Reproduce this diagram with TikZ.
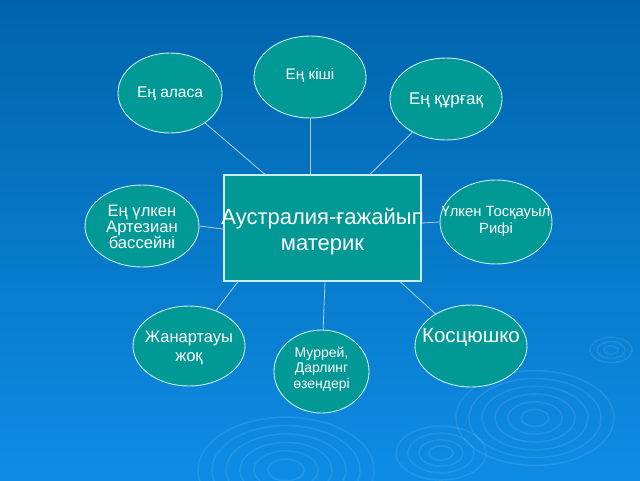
\documentclass[tikz,border=0pt]{standalone}
\usepackage{fontspec}
\setmainfont{Liberation Sans}
\usetikzlibrary{shapes.geometric}
\definecolor{bgtop}{RGB}{0,100,172}
\definecolor{bgbot}{RGB}{14,140,228}
\definecolor{tealfill}{RGB}{0,153,150}
\definecolor{edgecol}{RGB}{200,240,240}
\definecolor{conncol}{RGB}{175,205,222}
\begin{document}
\begin{tikzpicture}[x=1pt,y=-1pt,
  bub/.style={ellipse, draw=edgecol, line width=0.9pt, fill=tealfill, inner sep=0pt},
  hub/.style={rectangle, draw=edgecol, line width=1.2pt, fill=tealfill, inner sep=0pt},
  txt/.style={text=white, align=center, inner sep=0pt},
  link/.style={draw=conncol, line width=0.8pt},
  ring/.style={draw=white, draw opacity=0.09, line width=1.6pt}]
\useasboundingbox (0,0) rectangle (640,480);
\shade[top color=bgtop, bottom color=bgbot] (0,0) rectangle (640,480);
% ripples
\foreach \r in {18,32,46,60,74,88} \draw[ring] (286,470) ellipse [x radius=\r, y radius=0.6*\r];
\foreach \r in {12,22,33,45} \draw[ring] (441,453) ellipse [x radius=\r, y radius=0.6*\r];
\foreach \r in {14,27,40,53,66,79} \draw[ring] (535,418) ellipse [x radius=\r, y radius=0.6*\r];
\foreach \r in {7,14,21} \draw[ring] (611,350) ellipse [x radius=\r, y radius=0.6*\r];
% shapes
\node[hub, minimum width=197pt, minimum height=106pt] (main) at (322.5,228) {};
\node[bub, minimum width=112pt, minimum height=82pt] (kishi) at (310,77) {};
\node[bub, minimum width=104pt, minimum height=80pt] (alasa) at (170,93) {};
\node[bub, minimum width=112pt, minimum height=82pt] (qurgaq) at (446,99) {};
\node[bub, minimum width=114pt, minimum height=82pt] (artez) at (142,226) {};
\node[bub, minimum width=112pt, minimum height=84pt] (rif) at (496,222) {};
\node[bub, minimum width=112pt, minimum height=80pt] (zhan) at (189,346) {};
\node[bub, minimum width=95pt, minimum height=83pt] (murr) at (321.5,371.5) {};
\node[bub, minimum width=112pt, minimum height=82pt] (kos) at (471,346) {};
% texts
\node[txt, font=\fontsize{22}{26}\selectfont] (maint) at (322.5,232) {Аустралия-ғажайып\\материк};
\node[txt, font=\fontsize{15.3}{18}\selectfont] (kishit) at (310,75) {Ең кіші};
\node[txt, font=\fontsize{15.5}{18}\selectfont] (alasat) at (170,94) {Ең аласа};
\node[txt, font=\fontsize{17}{19}\selectfont] (qurgaqt) at (446,100) {Ең құрғақ};
\node[txt, font=\fontsize{16.6}{16.3}\selectfont] (artezt) at (142,227) {Ең үлкен\\Артезиан\\бассейні};
\node[txt, font=\fontsize{14.8}{17}\selectfont] (rift) at (496,221) {Үлкен Тосқауыл\\Рифі};
\node[txt, font=\fontsize{16.5}{19.5}\selectfont] (zhant) at (189,348) {Жанартауы\\жоқ};
\node[txt, font=\fontsize{14}{15.5}\selectfont] (murrt) at (321.5,369) {Муррей,\\Дарлинг\\өзендері};
\node[txt, font=\fontsize{20.5}{22}\selectfont] (kost) at (471,337) {Косцюшко};
% connectors
\draw[link] (alasa) -- (main.north west -| 265,0);
\draw[link] (kishi) -- (main.north west -| 310,0);
\draw[link] (qurgaq) -- (main.north west -| 370,0);
\draw[link] (artez.east) -- (main.west |- 0,229);
\draw[link] (main.east |- 0,223) -- (rif.west);
\draw[link] (main.south west -| 238,0) -- (zhan);
\draw[link] (main.south west -| 325,0) -- (murr);
\draw[link] (main.south west -| 400,0) -- (kos);
\end{tikzpicture}
\end{document}
